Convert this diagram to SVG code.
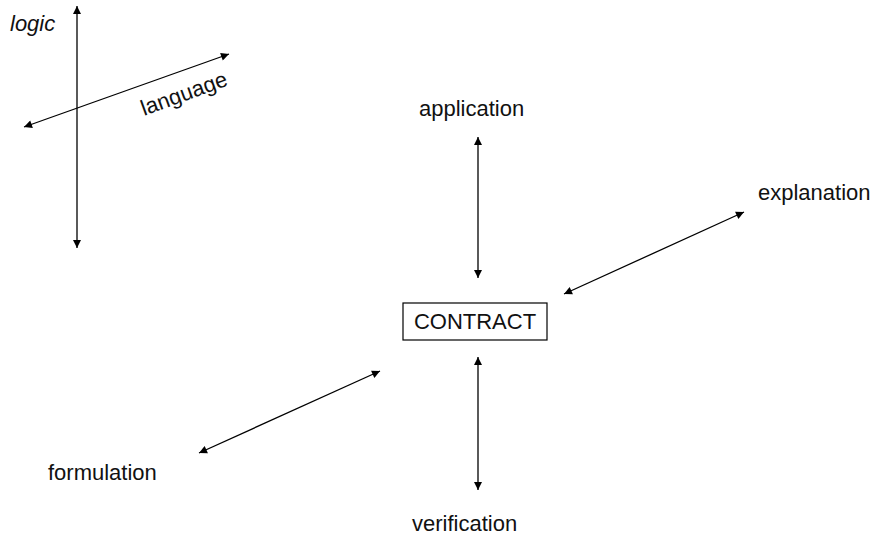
<svg xmlns="http://www.w3.org/2000/svg" width="877" height="535" viewBox="0 0 877 535">
<defs>
<marker id="ah" viewBox="0 0 10 10" refX="10" refY="5" markerWidth="10" markerHeight="8" markerUnits="userSpaceOnUse" orient="auto-start-reverse">
<path d="M0,0 L10,5 L0,10 z" fill="#000"/>
</marker>
</defs>
<style>
.t{font-family:"Liberation Sans",Arial,sans-serif;font-size:22px;fill:#111}
.c{stroke:#000;stroke-width:1.3;fill:none;marker-start:url(#ah);marker-end:url(#ah)}
</style>
<rect width="877" height="535" fill="#fff"/>
<g id="connectors">
<line class="c" x1="77" y1="6" x2="77" y2="248"/>
<line class="c" x1="24" y1="127" x2="229" y2="54"/>
<line class="c" x1="478" y1="137" x2="478" y2="278"/>
<line class="c" x1="564" y1="294" x2="744" y2="212"/>
<line class="c" x1="199" y1="453" x2="380" y2="371"/>
<line class="c" x1="478" y1="357" x2="478" y2="490"/>
</g>
<g id="logic"><text class="t" x="10" y="31" font-style="italic" font-size="21">logic</text></g>
<g id="language"><text class="t" transform="translate(144,116) rotate(-20)">language</text></g>
<g id="application"><text class="t" x="419" y="116">application</text></g>
<g id="explanation"><text class="t" x="758" y="200">explanation</text></g>
<g id="contract"><rect x="403" y="303" width="144" height="37" fill="#fff" stroke="#000" stroke-width="1.2"/><text class="t" x="475" y="329" text-anchor="middle">CONTRACT</text></g>
<g id="formulation"><text class="t" x="48" y="480">formulation</text></g>
<g id="verification"><text class="t" x="412" y="531">verification</text></g>
</svg>
